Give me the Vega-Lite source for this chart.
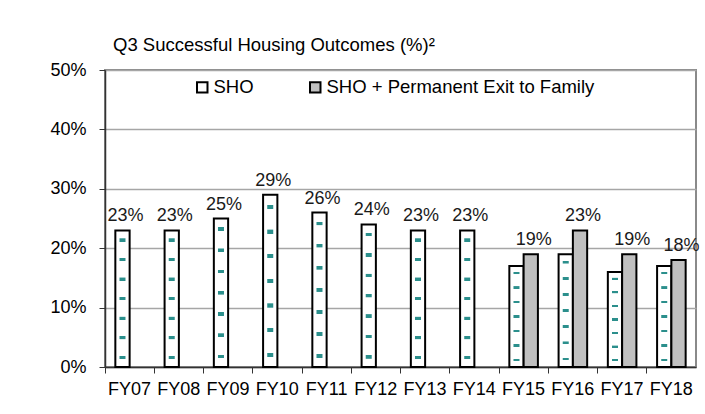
{
  "$schema": "https://vega.github.io/schema/vega-lite/v6.json",
  "width": 591,
  "height": 297,
  "autosize": "none",
  "padding": {"left": 105, "top": 70, "right": 9, "bottom": 47},
  "background": "white",
  "config": {
    "font": "Liberation Sans",
    "view": {"stroke": "#8a8a8a", "strokeWidth": 2}
  },
  "title": {
    "text": "Q3 Successful Housing Outcomes (%)²",
    "anchor": "start",
    "frame": "group",
    "dx": 8,
    "offset": 7,
    "fontSize": 18.5,
    "font": "Liberation Sans",
    "fontWeight": "normal",
    "color": "black"
  },
  "data": {
    "values": [
      {"fy": "FY07", "series": "SHO", "value": 0.23, "label": 1},
      {"fy": "FY08", "series": "SHO", "value": 0.23, "label": 1},
      {"fy": "FY09", "series": "SHO", "value": 0.25, "label": 1},
      {"fy": "FY10", "series": "SHO", "value": 0.29, "label": 1},
      {"fy": "FY11", "series": "SHO", "value": 0.26, "label": 1},
      {"fy": "FY12", "series": "SHO", "value": 0.24, "label": 1},
      {"fy": "FY13", "series": "SHO", "value": 0.23, "label": 1},
      {"fy": "FY14", "series": "SHO", "value": 0.23, "label": 1},
      {"fy": "FY15", "series": "SHO", "value": 0.17, "label": 0},
      {"fy": "FY15", "series": "SHO + Permanent Exit to Family", "value": 0.19, "label": 1},
      {"fy": "FY16", "series": "SHO", "value": 0.19, "label": 0},
      {"fy": "FY16", "series": "SHO + Permanent Exit to Family", "value": 0.23, "label": 1},
      {"fy": "FY17", "series": "SHO", "value": 0.16, "label": 0},
      {"fy": "FY17", "series": "SHO + Permanent Exit to Family", "value": 0.19, "label": 1},
      {"fy": "FY18", "series": "SHO", "value": 0.17, "label": 0},
      {"fy": "FY18", "series": "SHO + Permanent Exit to Family", "value": 0.18, "label": 1}
    ]
  },
  "encoding": {
    "x": {
      "field": "fy",
      "type": "nominal",
      "sort": null,
      "scale": {"paddingInner": 0.42, "paddingOuter": 0.21},
      "axis": {
        "title": null,
        "labelAngle": 0,
        "labelFontSize": 18,
        "labelColor": "black",
        "domainColor": "#333333",
        "domainWidth": 1.5,
        "tickColor": "#333333",
        "tickSize": 6,
        "bandPosition": -0.362,
        "labelPadding": 7,
        "grid": false
      }
    },
    "xOffset": {
      "field": "series",
      "type": "nominal",
      "sort": ["SHO", "SHO + Permanent Exit to Family"]
    },
    "y": {
      "field": "value",
      "type": "quantitative",
      "scale": {"domain": [0, 0.5]},
      "axis": {
        "title": null,
        "format": ".0%",
        "values": [0, 0.1, 0.2, 0.3, 0.4, 0.5],
        "gridColor": "#a6a6a6",
        "gridWidth": 1.5,
        "labelFontSize": 18,
        "labelColor": "black",
        "domainColor": "#333333",
        "domainWidth": 1.5,
        "tickColor": "#333333",
        "tickSize": 6,
        "labelPadding": 13
      }
    }
  },
  "layer": [
    {
      "mark": {"type": "bar", "stroke": "black", "strokeWidth": 2},
      "encoding": {
        "color": {
          "field": "series",
          "type": "nominal",
          "scale": {
            "domain": ["SHO", "SHO + Permanent Exit to Family"],
            "range": ["white", "#c0c0c0"]
          },
          "legend": {
            "orient": "none",
            "legendX": 88,
            "legendY": 8,
            "direction": "horizontal",
            "title": null,
            "symbolType": "square",
            "symbolSize": 110,
            "symbolStrokeColor": "black",
            "symbolStrokeWidth": 2,
            "labelFontSize": 18.5,
            "labelColor": "black",
            "labelOffset": 2,
            "labelLimit": 400,
            "columnPadding": 52
          }
        }
      }
    },
    {
      "transform": [{"filter": "datum.series == 'SHO'"}],
      "mark": {
        "type": "bar",
        "width": 6,
        "fill": {
          "gradient": "linear",
          "x1": 0, "y1": 0, "x2": 0, "y2": 1,
          "stops": [
            {"offset": 0, "color": "rgba(43,143,140,0)"},
            {"offset": 0.058, "color": "rgba(43,143,140,0)"},
            {"offset": 0.06, "color": "#2b8f8c"},
            {"offset": 0.082, "color": "#2b8f8c"},
            {"offset": 0.084, "color": "rgba(43,143,140,0)"},
            {"offset": 0.201, "color": "rgba(43,143,140,0)"},
            {"offset": 0.203, "color": "#2b8f8c"},
            {"offset": 0.225, "color": "#2b8f8c"},
            {"offset": 0.227, "color": "rgba(43,143,140,0)"},
            {"offset": 0.344, "color": "rgba(43,143,140,0)"},
            {"offset": 0.346, "color": "#2b8f8c"},
            {"offset": 0.368, "color": "#2b8f8c"},
            {"offset": 0.370, "color": "rgba(43,143,140,0)"},
            {"offset": 0.487, "color": "rgba(43,143,140,0)"},
            {"offset": 0.489, "color": "#2b8f8c"},
            {"offset": 0.511, "color": "#2b8f8c"},
            {"offset": 0.513, "color": "rgba(43,143,140,0)"},
            {"offset": 0.630, "color": "rgba(43,143,140,0)"},
            {"offset": 0.632, "color": "#2b8f8c"},
            {"offset": 0.654, "color": "#2b8f8c"},
            {"offset": 0.656, "color": "rgba(43,143,140,0)"},
            {"offset": 0.773, "color": "rgba(43,143,140,0)"},
            {"offset": 0.775, "color": "#2b8f8c"},
            {"offset": 0.797, "color": "#2b8f8c"},
            {"offset": 0.799, "color": "rgba(43,143,140,0)"},
            {"offset": 0.916, "color": "rgba(43,143,140,0)"},
            {"offset": 0.918, "color": "#2b8f8c"},
            {"offset": 0.940, "color": "#2b8f8c"},
            {"offset": 0.942, "color": "rgba(43,143,140,0)"},
            {"offset": 1, "color": "rgba(43,143,140,0)"}
          ]
        }
      },
      "encoding": {}
    },
    {
      "transform": [{"filter": "datum.label == 1"}],
      "mark": {"type": "text", "baseline": "alphabetic", "dy": -9, "dx": 3, "fontSize": 18, "color": "#1a1a1a"},
      "encoding": {
        "text": {"field": "value", "type": "quantitative", "format": ".0%"}
      }
    }
  ]
}
